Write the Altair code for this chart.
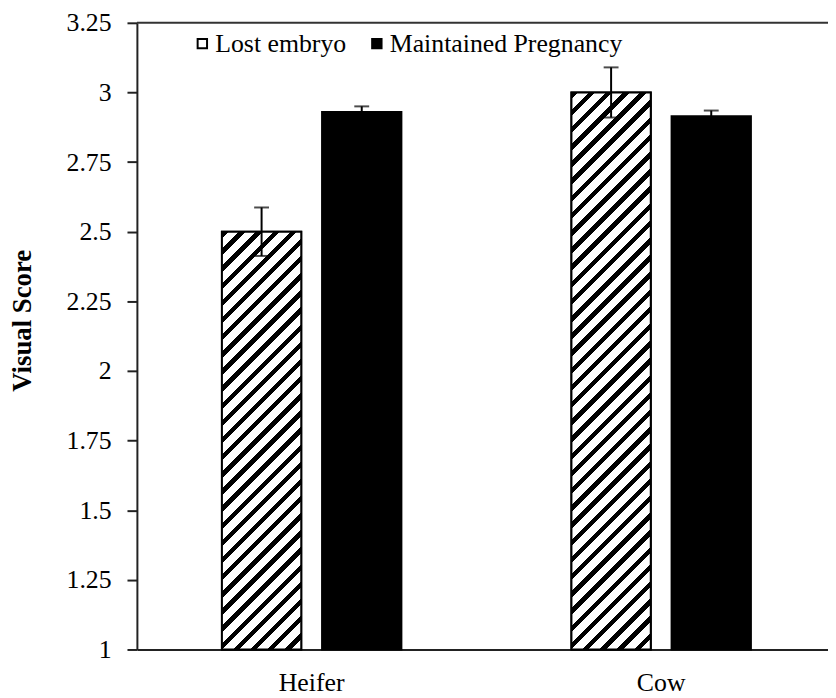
import altair as alt
import pandas as pd

# ---- data ----
groups = ["Heifer", "Heifer", "Cow", "Cow"]
statuses = ["Lost embryo", "Maintained Pregnancy", "Lost embryo", "Maintained Pregnancy"]
means = [2.50, 2.93, 3.00, 2.915]
errors = [0.087, 0.02, 0.09, 0.02]
group_order = ["Heifer", "Cow"]
status_order = ["Lost embryo", "Maintained Pregnancy"]
y_ticks = [1, 1.25, 1.5, 1.75, 2, 2.25, 2.5, 2.75, 3, 3.25]

df = pd.DataFrame({"group": groups, "status": statuses, "mean": means, "err": errors})
df["lo"] = df["mean"] - df["err"]
df["hi"] = df["mean"] + df["err"]

# ---- layout / style ----
W, H = 697, 632
XR = 705            # x range (plot continues past the right edge in the reference)
Y0, Y1 = 1, 3.25
BAR_W, GAP = 80, 21
step = BAR_W + GAP
band = XR / 2
p_inner = GAP / step
p_outer = (band - (2 * BAR_W + GAP)) / 2 / step
FONT = "Liberation Serif"


def hatch(value, period=17.5, frac=0.38):
    w = BAR_W
    h = (value - Y0) / (Y1 - Y0) * H
    n = max(1, round((w + h) / period))
    c = (w + h) / (w * w + h * h)
    stops = []
    for i in range(n):
        a, b, d = i / n, (i + frac) / n, (i + 1) / n
        stops += [
            {"offset": a, "color": "black"},
            {"offset": b, "color": "black"},
            {"offset": b, "color": "white"},
            {"offset": d, "color": "white"},
        ]
    return {"gradient": "linear", "x1": 0, "y1": 0, "x2": c * w, "y2": c * h, "stops": stops}


x_enc = alt.X(
    "group:N",
    sort=group_order,
    scale=alt.Scale(range=[0, XR], paddingInner=0, paddingOuter=0),
    axis=alt.Axis(title=None, labelAngle=0, ticks=False, labelPadding=20),
)
xo_enc = alt.XOffset(
    "status:N",
    sort=status_order,
    scale=alt.Scale(paddingInner=p_inner, paddingOuter=p_outer),
)
y_axis = alt.Axis(
    values=y_ticks,
    labelExpr="'' + datum.value",
    title="Visual Score",
    titleFont=FONT,
    titleFontSize=27,
    titleFontWeight="bold",
    titleColor="black",
    titleX=-115,
    titleY=300,
    titleAlign="center",
    titleBaseline="middle",
    titleAngle=270,
    labelPadding=16,
)
y_scale = alt.Scale(domain=[Y0, Y1], zero=False, nice=False)

base = alt.Chart(df)

bars = base.mark_bar(stroke="black", strokeWidth=2).encode(
    x=x_enc,
    xOffset=xo_enc,
    y=alt.Y("mean:Q", scale=y_scale, axis=y_axis),
    y2=alt.datum(1),
    fill=alt.Fill(
        "status:N",
        scale=alt.Scale(domain=status_order, range=["white", "black"]),
        legend=alt.Legend(
            title=None,
            orient="none",
            legendX=53,
            legendY=8,
            direction="horizontal",
            symbolType="square",
            symbolSize=90,
            symbolStrokeColor="black",
            symbolStrokeWidth=2,
            labelFont=FONT,
            labelFontSize=26,
            labelColor="black",
            labelOffset=0,
            labelLimit=500,
            columnPadding=17,
            padding=0,
        ),
    ),
)

hatch_layers = []
for g, s, m in zip(groups, statuses, means):
    if s != "Lost embryo":
        continue
    hatch_layers.append(
        base.transform_filter(
            (alt.datum.group == g) & (alt.datum.status == s)
        ).mark_bar(stroke="black", strokeWidth=2).encode(
            x=x_enc,
            xOffset=xo_enc,
            y=alt.Y("mean:Q", scale=y_scale, axis=y_axis),
            y2=alt.datum(1),
            fill=alt.value(hatch(m)),
        )
    )

err_rule = base.mark_rule(color="black", strokeWidth=2).encode(
    x=x_enc,
    xOffset=xo_enc,
    y=alt.Y("lo:Q", scale=y_scale, axis=y_axis),
    y2="hi:Q",
)
cap_hi = base.mark_tick(color="black", thickness=2, size=15).encode(
    x=x_enc, xOffset=xo_enc, y=alt.Y("hi:Q", scale=y_scale, axis=y_axis)
)
cap_lo = base.mark_tick(color="black", thickness=2, size=15).encode(
    x=x_enc, xOffset=xo_enc, y=alt.Y("lo:Q", scale=y_scale, axis=y_axis)
)

top_border = alt.Chart(pd.DataFrame({"k": [0]})).mark_rule(
    color="#333333", strokeWidth=2
).encode(x=alt.value(0), x2=alt.value(XR), y=alt.value(0))

chart = (
    alt.layer(bars, *hatch_layers, err_rule, cap_hi, cap_lo, top_border)
    .properties(
        width=W,
        height=H,
        autosize=alt.AutoSizeParams(type="none"),
        padding={"left": 130, "top": 12, "right": 0, "bottom": 46},
        background="white",
    )
    .configure_view(stroke=None)
    .configure_axis(
        grid=False,
        domainColor="#222222",
        domainWidth=2,
        tickColor="#222222",
        tickWidth=2,
        tickSize=10,
        labelFont=FONT,
        labelFontSize=26,
        labelColor="black",
    )
)

chart.save("out.html", embed_options={"renderer": "svg", "actions": False})
